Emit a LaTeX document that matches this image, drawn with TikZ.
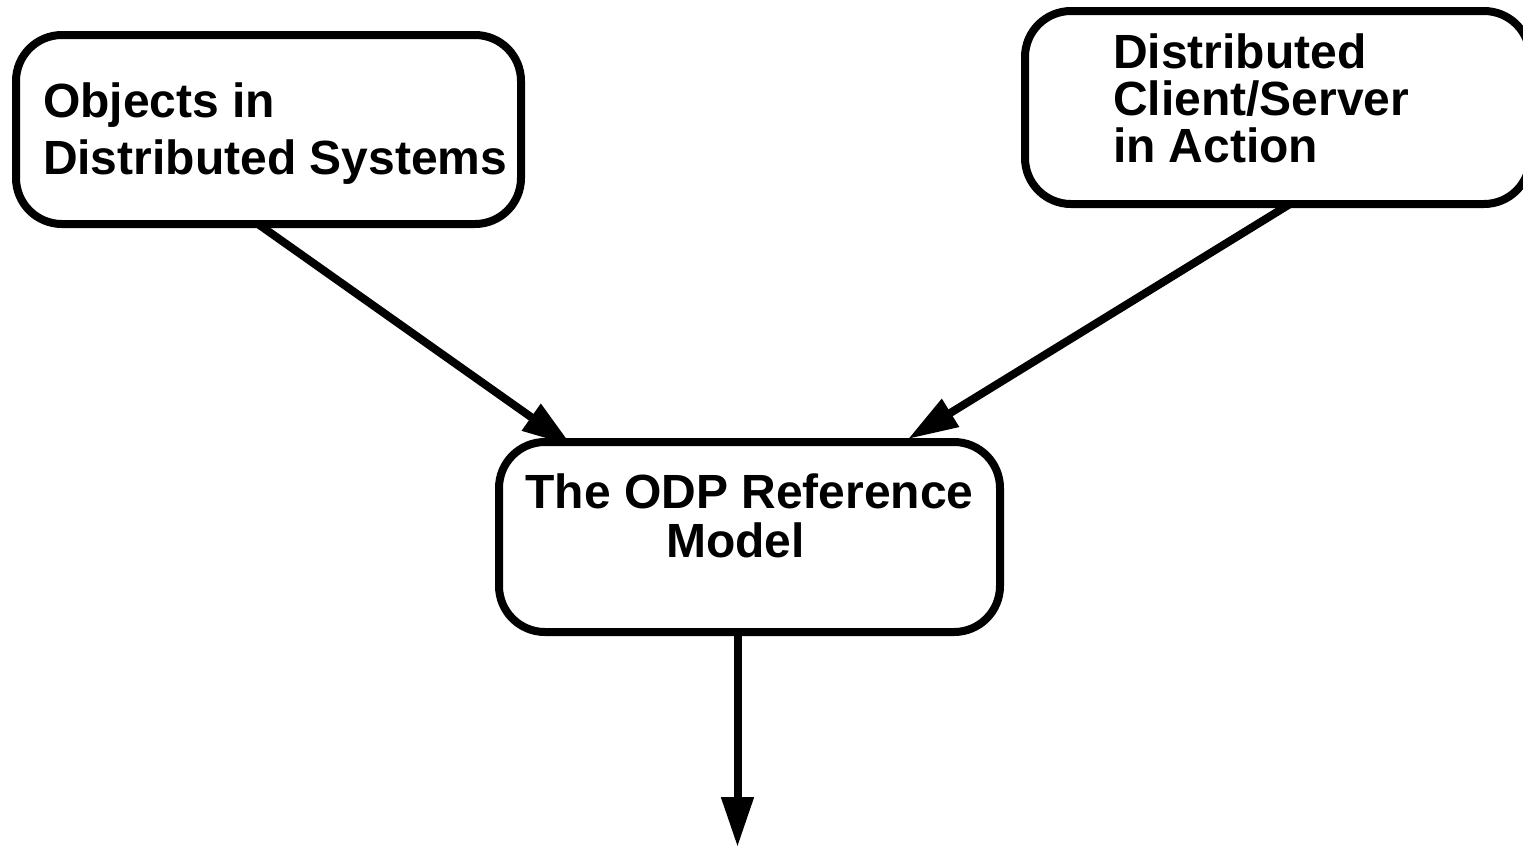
\documentclass[tikz,border=0pt]{standalone}
\usepackage{fontspec}
\setmainfont{Liberation Sans}
\usetikzlibrary{arrows.meta}
\begin{document}
\begin{tikzpicture}[x=0.5pt,y=-0.5pt,
  box/.style={draw=black, line width=4pt, rounded corners=23pt, fill=white, inner sep=0pt, outer sep=0pt},
  lbl/.style={inner sep=0pt, outer sep=0pt, font=\bfseries\fontsize{24pt}{#1}\selectfont},
  arr/.style={line width=4pt, -{Triangle[length=25pt,width=15.5pt]}}]
\clip (0,0) rectangle (1523,847);
\fill[white] (0,0) rectangle (1523,847);
% boxes
\node[box, minimum width=252.5pt, minimum height=94.5pt] (b1) at (268.5,129.5) {};
\node[box, minimum width=252.5pt, minimum height=96.5pt] (b2) at (1277.5,107.5) {};
\node[box, minimum width=250.5pt, minimum height=95pt] (b3) at (749.5,537) {};
% texts
\node[lbl=28.5pt, anchor=north west, align=left] (t1) at (43,78.6)
  {\rule{0pt}{0.8em}Objects in\\Distributed Systems};
\node[lbl=23.5pt, anchor=north west, align=left] (t2) at (1113,30.3)
  {\rule{0pt}{0.8em}Distributed\\Client/Server\\in Action};
\node[lbl=24.25pt, anchor=north, align=center] (t3) at (749.5,470.3)
  {\rule{0pt}{0.8em}The ODP Reference\\Model\hspace*{14pt}};
% connectors
\coordinate (out) at (737.5,847);
\draw[arr] ([xshift=-5.25pt]b1.south) -- ([xshift=-88.75pt,yshift=-2pt]b3.north);
\draw[arr] ([xshift=6.25pt]b2.south) -- ([xshift=79.25pt,yshift=1.5pt]b3.north);
\draw[arr] ([xshift=-6pt]b3.south) -- (out);
\end{tikzpicture}
\end{document}
